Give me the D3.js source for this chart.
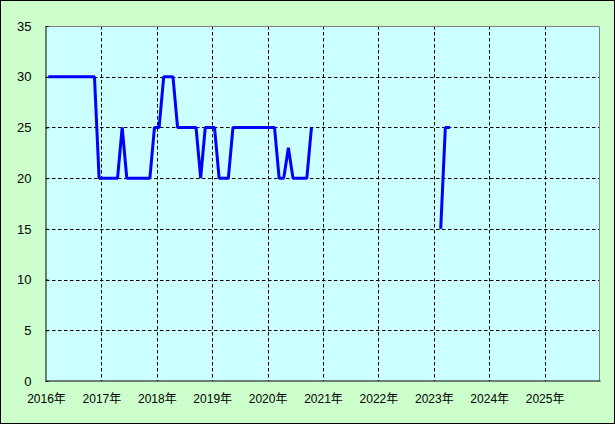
<!DOCTYPE html>
<html>
<head>
<meta charset="utf-8">
<script src="https://cdn.jsdelivr.net/npm/d3@7"></script>
<style>
  html, body { margin: 0; padding: 0; background: #fff; }
  svg { display: block; }
</style>
</head>
<body>
<script>
// ---- data ----
const startYear = 2016;
const yearTicks = [2016, 2017, 2018, 2019, 2020, 2021, 2022, 2023, 2024, 2025];
const xTickLabels = ["2016年", "2017年", "2018年", "2019年", "2020年", "2021年", "2022年", "2023年", "2024年", "2025年"];
const yTicks = [0, 5, 10, 15, 20, 25, 30, 35];
// monthly values starting Jan 2016 (null = no data)
const values = [
  30, 30, 30, 30, 30, 30, 30, 30, 30, 30, 30, 20,   // 2016
  20, 20, 20, 20, 25, 20, 20, 20, 20, 20, 20, 25,   // 2017
  25, 30, 30, 30, 25, 25, 25, 25, 25, 20, 25, 25,   // 2018
  25, 20, 20, 20, 25, 25, 25, 25, 25, 25, 25, 25,   // 2019
  25, 25, 20, 20, 23, 20, 20, 20, 20, 25, null, null, // 2020
  null, null, null, null, null, null, null, null, null, null, null, null, // 2021
  null, null, null, null, null, null, null, null, null, null, null, null, // 2022
  null, 15, 25, 25                                    // 2023
];

// ---- layout ----
const W = 615, H = 424;
const plot = { left: 46, right: 600, top: 26, bottom: 381 };

const svg = d3.select("body").append("svg").attr("width", W).attr("height", H);

// outer background
svg.append("rect").attr("x", 0.5).attr("y", 0.5).attr("width", W - 1).attr("height", H - 1)
  .attr("fill", "#CCFFCC").attr("stroke", "#000").attr("stroke-width", 1);

const x = d3.scaleLinear().domain([2016, 2026]).range([plot.left, plot.right]);
const y = d3.scaleLinear().domain([0, 35]).range([plot.bottom, plot.top]);

// plot background
svg.append("rect").attr("x", plot.left).attr("y", plot.top)
  .attr("width", plot.right - plot.left).attr("height", plot.bottom - plot.top)
  .attr("fill", "#CCFFFF");

// grid lines
const grid = svg.append("g").attr("stroke", "#000").attr("stroke-width", 1).attr("stroke-dasharray", "3.5,2.5");
grid.selectAll("line.h").data(yTicks.filter(d => d > 0 && d < 35)).enter().append("line")
  .attr("x1", plot.left).attr("x2", plot.right)
  .attr("y1", d => Math.round(y(d)) + 0.5).attr("y2", d => Math.round(y(d)) + 0.5);
grid.selectAll("line.v").data(yearTicks.filter(d => d > 2016)).enter().append("line")
  .attr("y1", plot.top).attr("y2", plot.bottom)
  .attr("x1", d => Math.round(x(d)) + 0.5).attr("x2", d => Math.round(x(d)) + 0.5);

// top and right borders (gray)
svg.append("path")
  .attr("d", `M${plot.left},${plot.top + 0.5}H${plot.right - 0.5}V${plot.bottom}`)
  .attr("fill", "none").attr("stroke", "#808080").attr("stroke-width", 1);

// series line (clipped to plot)
svg.append("clipPath").attr("id", "pc").append("rect")
  .attr("x", plot.left).attr("y", plot.top - 2)
  .attr("width", plot.right - plot.left).attr("height", plot.bottom - plot.top + 4);
const pts = values.map((v, i) => ({ t: startYear + (i + 0.5) / 12, v }));
const line = d3.line().defined(d => d.v !== null).x(d => x(d.t)).y(d => y(d.v));
svg.append("path").datum(pts).attr("d", line).attr("clip-path", "url(#pc)")
  .attr("fill", "none").attr("stroke", "#0000FF").attr("stroke-width", 3)
  .attr("stroke-linejoin", "bevel");

// axes (left and bottom black)
const yAxis = d3.axisLeft(y).tickValues(yTicks).tickSize(0).tickPadding(14).tickFormat(d3.format("d"));
const yG = svg.append("g").attr("transform", `translate(${plot.left - 0.5},0)`).call(yAxis);
yG.select(".domain").attr("stroke", "#000");
yG.selectAll("text").attr("font-family", "'Liberation Sans', Arial, sans-serif").attr("font-size", 13).attr("fill", "#000");
// short inward ticks
yG.selectAll(".tick").append("line").attr("x1", 0).attr("x2", 3).attr("stroke", "#000");

const xAxis = d3.axisBottom(x).tickValues(yearTicks).tickSize(0).tickPadding(14)
  .tickFormat((d, i) => xTickLabels[i]);
const xG = svg.append("g").attr("transform", `translate(0,${plot.bottom - 0.5})`).call(xAxis);
xG.select(".domain").attr("stroke", "#000");
xG.selectAll("text").attr("font-family", "'Liberation Sans', 'Noto Sans CJK JP', sans-serif").attr("font-size", 12).attr("fill", "#000");
</script>
</body>
</html>
